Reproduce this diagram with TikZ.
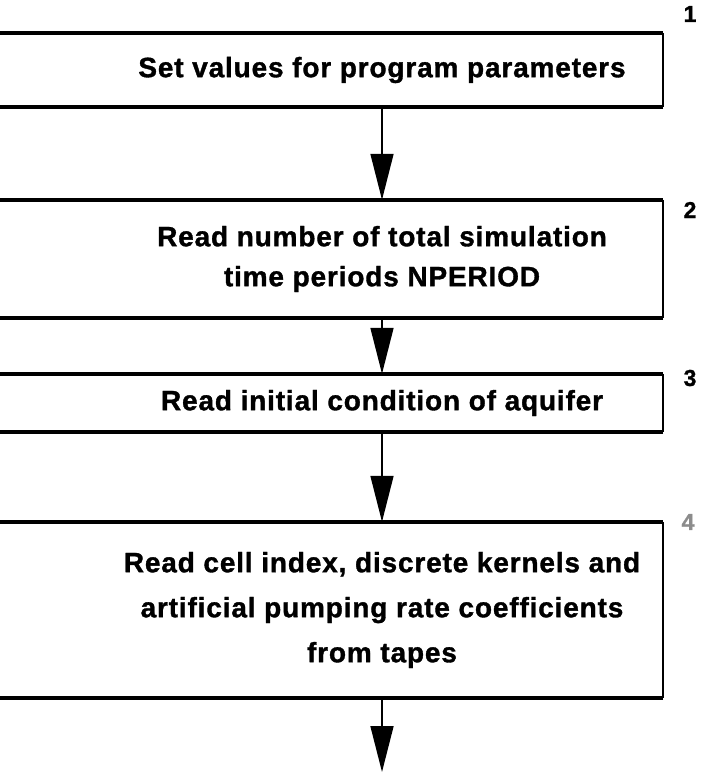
\documentclass[tikz,border=0pt]{standalone}
\usepackage{fontspec}
\setmainfont{Liberation Sans}[BoldFeatures={FakeBold=1.2,LetterSpace=3}]
\usetikzlibrary{positioning,arrows.meta}

\tikzset{
	stepbox/.style={minimum width=562pt, align=center, inner sep=0pt,
		font=\fontsize{28}{40}\selectfont\bfseries},
	rim/.style={line width=3.8pt},
	side/.style={line width=2pt},
	flow/.style={line width=1.6pt, -{Triangle[length=46pt,width=23pt]}},
	tag/.style={font=\fontsize{23}{23}\selectfont\bfseries}
}

\begin{document}
\begin{tikzpicture}[x=1pt,y=-1pt]
	\useasboundingbox (0,0) rectangle (715,774);
	\fill[white] (0,0) rectangle (715,774);
	\clip (0,0) rectangle (715,774);
	
	% the four steps of the program
	\node[stepbox, minimum height=74pt] (s1) at (382,70) {Set values for program parameters};
	\node[stepbox, minimum height=118pt] (s2) at (382,259) {Read number of total simulation\\time periods NPERIOD};
	\node[stepbox, minimum height=58pt] (s3) at (382,403) {Read initial condition of aquifer};
	\node[stepbox, minimum height=176pt] (s4) at (382,610) {Read cell index, discrete kernels and\\[5pt]artificial pumping rate coefficients\\[5pt]from tapes};
	\coordinate (out) at (382,772);
	
	% frames: open on the left side
	\foreach \s in {s1,s2,s3,s4}{
		\draw[rim] (\s.north east) -- (\s.north west) -- ++(-120,0);
		\draw[rim] (\s.south east) -- (\s.south west) -- ++(-120,0);
		\draw[side] (\s.north east) -- (\s.south east);
	}
	
	\draw[flow] (s1.south) -- (s2.north);
	\draw[flow] (s2.south) -- (s3.north);
	\draw[flow] (s3.south) -- (s4.north);
	\draw[flow] (s4.south) -- (out);
	
	% step numbers
	\node[tag] (n1) at (690,14) {1};
	\node[tag] (n2) at (690,210) {2};
	\node[tag] (n3) at (690,378) {3};
	\node[tag, black!45] (n4) at (688,522) {4};
\end{tikzpicture}
\end{document}
